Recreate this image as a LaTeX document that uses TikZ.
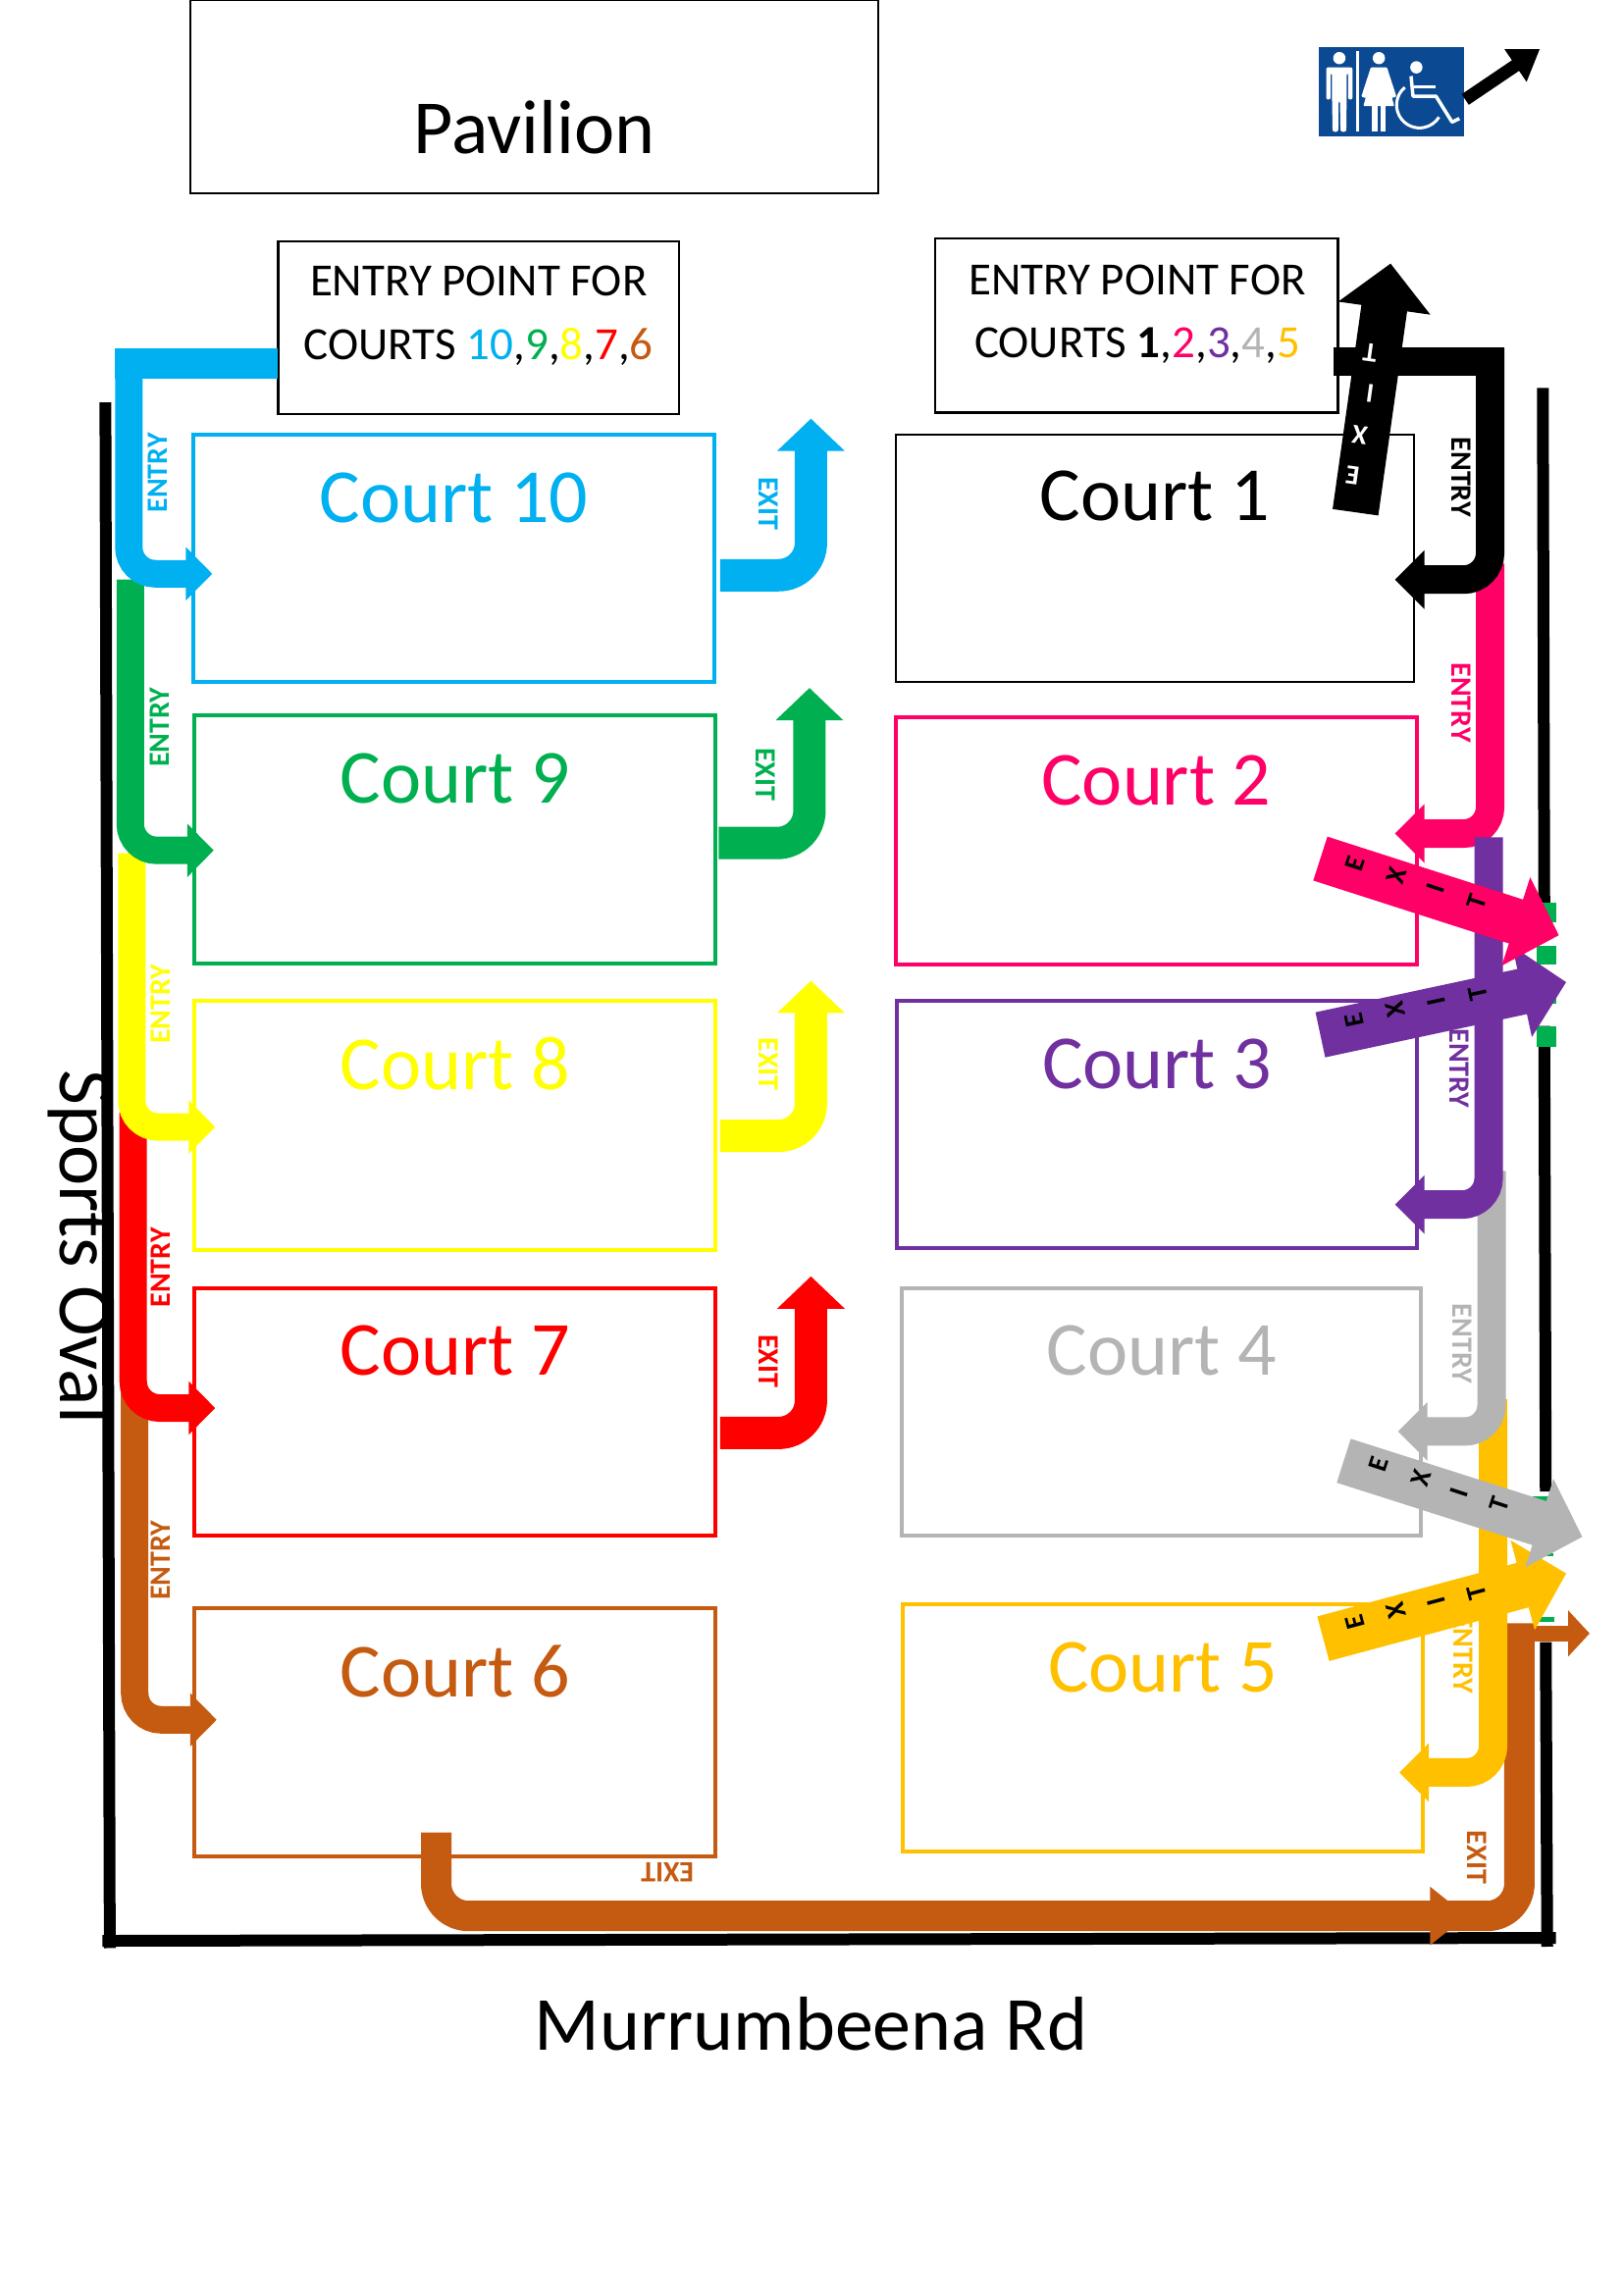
\documentclass[tikz,border=0pt]{standalone}
\usepackage{fontspec}
\setmainfont{Carlito}
\usetikzlibrary{arrows.meta}
\definecolor{cCyan}{HTML}{00B0F0}
\definecolor{cGreen}{HTML}{00B050}
\definecolor{cYellow}{HTML}{FFFF00}
\definecolor{cRed}{HTML}{FF0000}
\definecolor{cBrown}{HTML}{C55A11}
\definecolor{cPink}{HTML}{FF0066}
\definecolor{cPurple}{HTML}{7030A0}
\definecolor{cGray}{HTML}{B4B4B4}
\definecolor{cGold}{HTML}{FFC000}
\definecolor{cBlue}{HTML}{0B4A92}
\definecolor{cDoor}{HTML}{00B050}
\tikzset{
  plainbox/.style={draw=black,line width=2.4pt},
  courtbox/.style={draw=#1,line width=4pt},
  courttext/.style={text=#1,font=\fontsize{78}{80}\selectfont,inner sep=0pt,anchor=center},
  bigtext/.style={font=\fontsize{78}{80}\selectfont,inner sep=0pt,anchor=center},
  entrytext/.style={font=\fontsize{47}{49}\selectfont,inner sep=0pt,anchor=center},
  smalllabel/.style={text=#1,font=\fontsize{30}{32}\selectfont\bfseries,inner sep=0pt,anchor=center},
  entryarrow/.style={draw=#1,line width=28pt,rounded corners=27pt,-{Triangle[length=27pt,width=53pt]},color=#1},
  rentryarrow/.style={draw=#1,line width=29pt,rounded corners=27pt,-{Triangle[length=30pt,width=58pt]},color=#1},
  exitarrow/.style={draw=#1,line width=33pt,rounded corners=33pt,-{Triangle[length=33pt,width=67pt]},color=#1},
  diagarrow/.style={draw=#1,line width=47pt,-{Triangle[length=46pt,width=92pt]},color=#1},
  wall/.style={draw=black,line width=12pt},
  door/.style={fill=cDoor,draw=none},
  stick/.style={draw=white,line width=#1},
  letter/.style={font=\fontsize{28}{30}\selectfont\bfseries,inner sep=0pt,text=black,anchor=center},
}
\newcommand{\courtrect}[7]{%
  \draw[courtbox=#2] (#3,#4) rectangle (#5,#6);
  \node[courttext=#2] (#1) at ({(#3+#5)/2},{#4+43}) {#7};}
\begin{document}
\begin{tikzpicture}[x=1.4917pt,y=-1.4917pt]
\useasboundingbox (0,0) rectangle (1108.8,1568);
% walls
\draw[wall] (72,275) -- (75,1331);
\draw[wall] (70,1326) -- (1063,1324);
\draw[wall] (1054,265) -- (1055,617);
\draw[wall] (1055,701) -- (1056,1019);
\draw[wall] (1056,1122) -- (1057,1330);
% doors
\fill[door] (1054.5,617) rectangle (1063,630);
\fill[door] (1050,646) rectangle (1063,659);
\fill[door] (1054.5,670) rectangle (1063,686);
\fill[door] (1050,701) rectangle (1063,715);
\fill[door] (1047,1022) rectangle (1058,1026);
\fill[door] (1054.5,1061) rectangle (1061,1063);
\fill[door] (1051,1105) rectangle (1062,1108);
% top boxes
\draw[plainbox] (130,0) rectangle (600,132);
\node[bigtext] (pavilion) at (365,87) {Pavilion};
\draw[plainbox] (190,165) rectangle (464,283);
\node[entrytext] (el1) at (327,192) {ENTRY POINT FOR};
\node[entrytext] (el2) at (327,237) {COURTS \textcolor{cCyan}{10},\textcolor{cGreen}{9},\textcolor{cYellow}{8},\textcolor{cRed}{7},\textcolor{cBrown}{6}};
\draw[plainbox] (639,163) rectangle (914,282);
\node[entrytext] (er1) at (777,191) {ENTRY POINT FOR};
\node[entrytext] (er2) at (777,236) {COURTS \textbf{1},\textcolor{cPink}{2},\textcolor{cPurple}{3},\textcolor{cGray}{4},\textcolor{cGold}{5}};
% courts
\courtrect{c10}{cCyan}{132}{297}{488}{466}{Court 10}
\courtrect{c9}{cGreen}{133}{489}{489}{658}{Court 9}
\courtrect{c8}{cYellow}{133}{684}{489}{854}{Court 8}
\courtrect{c7}{cRed}{133}{880}{489}{1049}{Court 7}
\courtrect{c6}{cBrown}{133}{1099}{489}{1268}{Court 6}
\draw[plainbox] (612,297) rectangle (966,466);
\node[courttext=black] (c1) at (789,339) {Court 1};
\courtrect{c2}{cPink}{612}{490}{968}{659}{Court 2}
\courtrect{c3}{cPurple}{613}{684}{968}{853}{Court 3}
\courtrect{c4}{cGray}{616}{880}{971}{1049}{Court 4}
\courtrect{c5}{cGold}{617}{1096}{972}{1265}{Court 5}
% outside labels
\node[bigtext,rotate=-90] (oval) at (55,852) {Sports Oval};
\node[bigtext] (road) at (554,1383) {Murrumbeena Rd};
% left entry arrows
\draw[entryarrow=cBrown] (92,950) -- (92,1175) -- (148,1175);
\draw[entryarrow=cRed] (91,760) -- (91,962) -- (147,962);
\draw[entryarrow=cYellow] (90,583) -- (90,770) -- (147,770);
\draw[entryarrow=cGreen] (89,396) -- (89,581) -- (146,581);
\draw[entryarrow=cCyan] (88,240) -- (88,392) -- (145,392);
\draw[draw=cCyan,line width=31pt] (190,248.5) -- (78.5,248.5);
\node[smalllabel=cCyan,rotate=90] (en10) at (108,323) {ENTRY};
\node[smalllabel=cGreen,rotate=90] (en9) at (109,497) {ENTRY};
\node[smalllabel=cYellow,rotate=90] (en8) at (110,686) {ENTRY};
\node[smalllabel=cRed,rotate=90] (en7) at (110,866) {ENTRY};
\node[smalllabel=cBrown,rotate=90] (en6) at (110,1066) {ENTRY};
% exit arrows
\draw[exitarrow=cCyan] (492,393) -- (554,393) -- (554,286);
\draw[exitarrow=cGreen] (491,576) -- (553,576) -- (553,470);
\draw[exitarrow=cYellow] (492,776) -- (554,776) -- (554,670);
\draw[exitarrow=cRed] (492,979) -- (554,979) -- (554,872);
\node[smalllabel=cCyan,rotate=-90] (ex10) at (525,344) {EXIT};
\node[smalllabel=cGreen,rotate=-90] (ex9) at (523,529) {EXIT};
\node[smalllabel=cYellow,rotate=-90] (ex8) at (525,727) {EXIT};
\node[smalllabel=cRed,rotate=-90] (ex7) at (525,930) {EXIT};
% brown exit
\draw[draw=cBrown,line width=31pt,rounded corners=33pt] (298,1252) -- (298,1309) -- (1038,1309) -- (1038,1109);
\fill[cBrown] (977,1289) -- (977,1329) -- (1002,1309) -- cycle;
\draw[draw=cBrown,line width=16pt,-{Triangle[length=22pt,width=46pt]}] (1037,1116) -- (1086,1116);
\node[smalllabel=cBrown,rotate=180] (ex6a) at (456,1279) {EXIT};
\node[smalllabel=cBrown,rotate=-90] (ex6b) at (1009,1269) {EXIT};
% right entry arrows
\draw[rentryarrow=cPink] (1018,385) -- (1018,569.5) -- (953,569.5);
\draw[rentryarrow=cGold] (1020,956) -- (1020,1211) -- (956,1211);
\draw[rentryarrow=cGray] (1019,800) -- (1019,978) -- (955,978);
\draw[rentryarrow=cPurple] (1017,572) -- (1017,823) -- (953,823);
\draw[rentryarrow=black] (1018,238) -- (1018,396) -- (953,396);
\draw[draw=black,line width=29pt] (911,247) -- (1028,247);
\node[smalllabel=black,rotate=-90] (en1) at (998,326) {ENTRY};
\node[smalllabel=cPink,rotate=-90] (en2) at (998,480) {ENTRY};
\node[smalllabel=cPurple,rotate=-90] (en3) at (997,730) {ENTRY};
\node[smalllabel=cGray,rotate=-90] (en4) at (999,918) {ENTRY};
\node[smalllabel=cGold,rotate=-90] (en5) at (1000,1130) {ENTRY};
% diagonal exits
\draw[diagarrow=cPurple] (902,707) -- (1070,671);
\node[letter,rotate=102] (pE) at (925,697) {E};
\node[letter,rotate=102] (pX) at (953,690) {X};
\node[letter,rotate=102] (pI) at (981,684) {I};
\node[letter,rotate=102] (pT) at (1010,679) {T};
\draw[diagarrow=cPink] (902,586.6) -- (1065,639);
\node[letter,rotate=72] (kE) at (926,590) {E};
\node[letter,rotate=72] (kX) at (954,598) {X};
\node[letter,rotate=72] (kI) at (981,607) {I};
\node[letter,rotate=72] (kT) at (1009,616) {T};
\draw[diagarrow=cGold] (904,1119.6) -- (1070,1075);
\node[letter,rotate=105] (oE) at (926,1108) {E};
\node[letter,rotate=105] (oX) at (954,1100) {X};
\node[letter,rotate=105] (oI) at (981,1094) {I};
\node[letter,rotate=105] (oT) at (1009,1088) {T};
\draw[diagarrow=cGray] (918,998) -- (1081,1050);
\node[letter,rotate=72] (gE) at (942,1000) {E};
\node[letter,rotate=72] (gX) at (971,1010) {X};
\node[letter,rotate=72] (gI) at (997,1020) {I};
\node[letter,rotate=72] (gT) at (1024,1028) {T};
\draw[diagarrow=black] (926,350) -- (950,180);
\node[letter,rotate=172,text=white] (bT) at (936,241) {T};
\node[letter,rotate=172,text=white] (bI) at (936,269) {I};
\node[letter,rotate=172,text=white] (bX) at (929,297) {X};
\node[letter,rotate=172,text=white] (bE) at (924,325) {E};
% toilet sign
\fill[cBlue] (901,32) rectangle (1000,93);
\fill[white] (915,39.7) circle[radius=4.2];
\fill[white,rounded corners=2pt] (906,46) -- (924,46) -- (924,68) -- (921,68) -- (921,50) -- (920,50) -- (920,68) -- (919.7,90) -- (915.8,90) -- (915.4,69) -- (914.4,69) -- (914.2,90) -- (910.4,90) -- (910,68) -- (910,50) -- (909,50) -- (909,68) -- (906,68) -- cycle;
\draw[stick=2.5pt] (927.4,35) -- (927.4,90);
\fill[white] (942,39.7) circle[radius=4.2];
\fill[white,rounded corners=1pt] (936.5,46) -- (947.5,46) -- (954,66) -- (951,67) -- (947.5,54) -- (952.5,72.5) -- (931.4,72.5) -- (936.5,54) -- (933,67) -- (930,66) -- cycle;
\fill[white] (937.4,72) rectangle (941,90);
\fill[white] (943,72) rectangle (946.6,90);
\fill[white] (967.6,46) circle[radius=4.2];
\draw[stick=3pt] (959.7,59.7) arc[start angle=130,end angle=328,radius=23.4pt];
\draw[stick=3.5pt,line join=round] (964,52) -- (965.3,65.7) -- (981,65.7) -- (992,83.4) -- (997,81);
\draw[stick=3pt] (966,59) -- (981,59);
% toilet arrow
\coordinate (signfrom) at (1001,68);
\coordinate (signto) at (1052,33.5);
\draw[draw=black,line width=13pt,-{Triangle[length=30pt,width=38pt]}] (signfrom) -- (signto);
\end{tikzpicture}
\end{document}
